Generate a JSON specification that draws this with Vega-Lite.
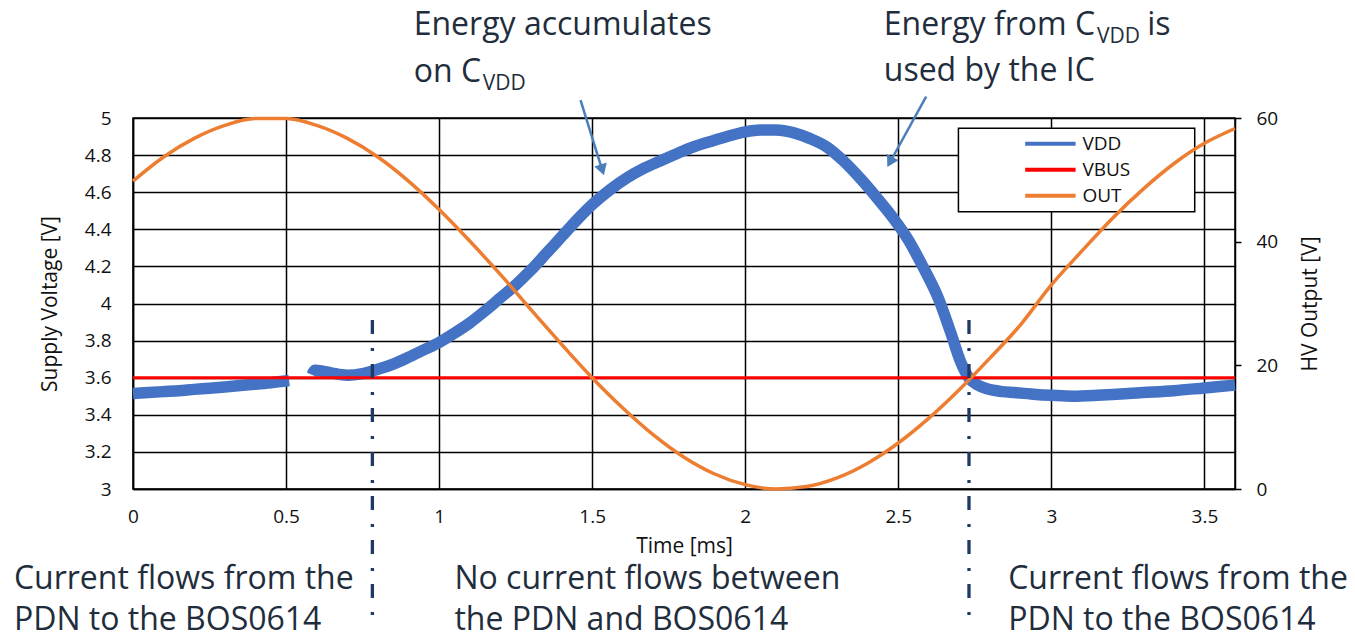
{
  "$schema": "https://vega.github.io/schema/vega-lite/v6.json",
  "width": 1102,
  "height": 371,
  "autosize": {"type": "none"},
  "padding": {"left": 133, "top": 118, "right": 120, "bottom": 147},
  "background": "#ffffff",
  "datasets": {
    "signals": [
      {"t": 0.00, "series": "VDD", "v": 3.515},
      {"t": 0.05, "series": "VDD", "v": 3.52},
      {"t": 0.10, "series": "VDD", "v": 3.525},
      {"t": 0.15, "series": "VDD", "v": 3.53},
      {"t": 0.20, "series": "VDD", "v": 3.537},
      {"t": 0.25, "series": "VDD", "v": 3.543},
      {"t": 0.30, "series": "VDD", "v": 3.55},
      {"t": 0.35, "series": "VDD", "v": 3.558},
      {"t": 0.40, "series": "VDD", "v": 3.565},
      {"t": 0.45, "series": "VDD", "v": 3.573},
      {"t": 0.51, "series": "VDD", "v": 3.585},
      {"t": 0.55, "series": "VDD", "v": null},
      {"t": 0.585, "series": "VDD", "v": 3.615},
      {"t": 0.595, "series": "VDD", "v": 3.64},
      {"t": 0.62, "series": "VDD", "v": 3.635},
      {"t": 0.65, "series": "VDD", "v": 3.625},
      {"t": 0.70, "series": "VDD", "v": 3.613},
      {"t": 0.75, "series": "VDD", "v": 3.622},
      {"t": 0.80, "series": "VDD", "v": 3.645},
      {"t": 0.85, "series": "VDD", "v": 3.673},
      {"t": 0.90, "series": "VDD", "v": 3.71},
      {"t": 0.95, "series": "VDD", "v": 3.75},
      {"t": 1.00, "series": "VDD", "v": 3.79},
      {"t": 1.05, "series": "VDD", "v": 3.84},
      {"t": 1.10, "series": "VDD", "v": 3.895},
      {"t": 1.15, "series": "VDD", "v": 3.96},
      {"t": 1.20, "series": "VDD", "v": 4.03},
      {"t": 1.25, "series": "VDD", "v": 4.10},
      {"t": 1.30, "series": "VDD", "v": 4.18},
      {"t": 1.35, "series": "VDD", "v": 4.27},
      {"t": 1.40, "series": "VDD", "v": 4.36},
      {"t": 1.45, "series": "VDD", "v": 4.45},
      {"t": 1.505, "series": "VDD", "v": 4.54},
      {"t": 1.56, "series": "VDD", "v": 4.615},
      {"t": 1.616, "series": "VDD", "v": 4.68},
      {"t": 1.67, "series": "VDD", "v": 4.73},
      {"t": 1.724, "series": "VDD", "v": 4.77},
      {"t": 1.78, "series": "VDD", "v": 4.81},
      {"t": 1.832, "series": "VDD", "v": 4.845},
      {"t": 1.89, "series": "VDD", "v": 4.875},
      {"t": 1.941, "series": "VDD", "v": 4.90},
      {"t": 2.00, "series": "VDD", "v": 4.925},
      {"t": 2.05, "series": "VDD", "v": 4.935},
      {"t": 2.10, "series": "VDD", "v": 4.935},
      {"t": 2.159, "series": "VDD", "v": 4.92},
      {"t": 2.21, "series": "VDD", "v": 4.89},
      {"t": 2.27, "series": "VDD", "v": 4.84},
      {"t": 2.32, "series": "VDD", "v": 4.77},
      {"t": 2.378, "series": "VDD", "v": 4.67},
      {"t": 2.43, "series": "VDD", "v": 4.57},
      {"t": 2.486, "series": "VDD", "v": 4.455},
      {"t": 2.53, "series": "VDD", "v": 4.35},
      {"t": 2.58, "series": "VDD", "v": 4.20},
      {"t": 2.633, "series": "VDD", "v": 4.02},
      {"t": 2.67, "series": "VDD", "v": 3.85},
      {"t": 2.705, "series": "VDD", "v": 3.68},
      {"t": 2.73, "series": "VDD", "v": 3.60},
      {"t": 2.76, "series": "VDD", "v": 3.56},
      {"t": 2.79, "series": "VDD", "v": 3.54},
      {"t": 2.84, "series": "VDD", "v": 3.525},
      {"t": 2.88, "series": "VDD", "v": 3.52},
      {"t": 2.95, "series": "VDD", "v": 3.51},
      {"t": 3.00, "series": "VDD", "v": 3.505},
      {"t": 3.07, "series": "VDD", "v": 3.50},
      {"t": 3.15, "series": "VDD", "v": 3.505},
      {"t": 3.20, "series": "VDD", "v": 3.51},
      {"t": 3.30, "series": "VDD", "v": 3.52},
      {"t": 3.40, "series": "VDD", "v": 3.53},
      {"t": 3.50, "series": "VDD", "v": 3.545},
      {"t": 3.60, "series": "VDD", "v": 3.56},
      {"t": 0.0, "series": "VBUS", "v": 3.6},
      {"t": 3.6, "series": "VBUS", "v": 3.6},
      {"t": 0.0, "series": "OUT", "v": 49.8},
      {"t": 0.1, "series": "OUT", "v": 53.7},
      {"t": 0.2, "series": "OUT", "v": 56.7},
      {"t": 0.3, "series": "OUT", "v": 58.8},
      {"t": 0.4, "series": "OUT", "v": 59.9},
      {"t": 0.5, "series": "OUT", "v": 59.9},
      {"t": 0.6, "series": "OUT", "v": 58.8},
      {"t": 0.7, "series": "OUT", "v": 56.7},
      {"t": 0.8, "series": "OUT", "v": 53.7},
      {"t": 0.9, "series": "OUT", "v": 49.8},
      {"t": 1.0, "series": "OUT", "v": 45.2},
      {"t": 1.1, "series": "OUT", "v": 40.1},
      {"t": 1.2, "series": "OUT", "v": 34.7},
      {"t": 1.3, "series": "OUT", "v": 29.0},
      {"t": 1.4, "series": "OUT", "v": 23.4},
      {"t": 1.5, "series": "OUT", "v": 18.0},
      {"t": 1.6, "series": "OUT", "v": 13.1},
      {"t": 1.7, "series": "OUT", "v": 8.75},
      {"t": 1.8, "series": "OUT", "v": 5.14},
      {"t": 1.9, "series": "OUT", "v": 2.43},
      {"t": 2.0, "series": "OUT", "v": 0.71},
      {"t": 2.1, "series": "OUT", "v": 0.01},
      {"t": 2.2, "series": "OUT", "v": 0.39},
      {"t": 2.3, "series": "OUT", "v": 1.8},
      {"t": 2.4, "series": "OUT", "v": 4.18},
      {"t": 2.5, "series": "OUT", "v": 7.44},
      {"t": 2.6, "series": "OUT", "v": 11.46},
      {"t": 2.7, "series": "OUT", "v": 16.1},
      {"t": 2.8, "series": "OUT", "v": 21.2},
      {"t": 2.9, "series": "OUT", "v": 26.6},
      {"t": 3.0, "series": "OUT", "v": 33.0},
      {"t": 3.1, "series": "OUT", "v": 38.5},
      {"t": 3.2, "series": "OUT", "v": 43.8},
      {"t": 3.3, "series": "OUT", "v": 48.5},
      {"t": 3.4, "series": "OUT", "v": 52.6},
      {"t": 3.5, "series": "OUT", "v": 55.9},
      {"t": 3.6, "series": "OUT", "v": 58.3}
    ],
    "bounds": [
      {"t": 0.782},
      {"t": 2.731}
    ]
  },
  "layer": [
    {
      "data": {"values": [{}]},
      "mark": {"type": "rect", "fill": "#ffffff", "stroke": "#000000", "strokeWidth": 1.5, "clip": false},
      "encoding": {
        "x": {"datum": 2.6965, "type": "quantitative", "scale": {"domain": [0, 3.6], "nice": false, "zero": false},
          "axis": {"title": "Time [ms]", "values": [0, 0.5, 1, 1.5, 2, 2.5, 3, 3.5], "format": "~g", "grid": true, "ticks": false, "tickSize": 0, "labelPadding": 18, "titlePadding": 9, "labelFlush": false}},
        "x2": {"datum": 3.4684},
        "y": {"datum": 4.9445, "type": "quantitative", "scale": {"domain": [3, 5], "nice": false, "zero": false},
          "axis": {"title": "Supply Voltage [V]", "values": [3, 3.2, 3.4, 3.6, 3.8, 4, 4.2, 4.4, 4.6, 4.8, 5], "format": "~g", "grid": true, "ticks": false, "tickSize": 0, "labelPadding": 22, "titlePadding": 24, "labelFlush": false}},
        "y2": {"datum": 4.4949}
      }
    },
    {
      "data": {"name": "signals"},
      "transform": [{"filter": "datum.series === 'VDD'"}],
      "mark": {"type": "line", "strokeWidth": 11.5, "interpolate": "monotone", "invalid": "break-paths-filter-domains", "clip": false},
      "encoding": {
        "x": {"field": "t", "type": "quantitative", "scale": {"domain": [0, 3.6], "nice": false, "zero": false},
          "axis": {"title": "Time [ms]", "values": [0, 0.5, 1, 1.5, 2, 2.5, 3, 3.5], "format": "~g", "grid": true, "ticks": false, "tickSize": 0, "labelPadding": 18, "titlePadding": 9, "labelFlush": false}},
        "y": {"field": "v", "type": "quantitative", "scale": {"domain": [3, 5], "nice": false, "zero": false}, "axis": null},
        "color": {"field": "series", "type": "nominal",
          "scale": {"domain": ["VDD", "VBUS", "OUT"], "range": ["#4472C4", "#FF0000", "#ED7D31"]},
          "legend": {"title": null, "orient": "none", "legendX": 901.4, "legendY": 9.7}}
      }
    },
    {
      "data": {"name": "signals"},
      "transform": [{"filter": "datum.series === 'VBUS'"}],
      "mark": {"type": "line", "strokeWidth": 3, "clip": false},
      "encoding": {
        "x": {"field": "t", "type": "quantitative", "scale": {"domain": [0, 3.6], "nice": false, "zero": false},
          "axis": {"title": "Time [ms]", "values": [0, 0.5, 1, 1.5, 2, 2.5, 3, 3.5], "format": "~g", "grid": true, "ticks": false, "tickSize": 0, "labelPadding": 18, "titlePadding": 9, "labelFlush": false}},
        "y": {"field": "v", "type": "quantitative", "scale": {"domain": [3, 5], "nice": false, "zero": false}, "axis": null},
        "color": {"field": "series", "type": "nominal",
          "scale": {"domain": ["VDD", "VBUS", "OUT"], "range": ["#4472C4", "#FF0000", "#ED7D31"]},
          "legend": {"title": null, "orient": "none", "legendX": 901.4, "legendY": 9.7}}
      }
    },
    {
      "data": {"name": "signals"},
      "transform": [{"filter": "datum.series === 'OUT'"}],
      "mark": {"type": "line", "strokeWidth": 3.5, "interpolate": "monotone", "clip": false},
      "encoding": {
        "x": {"field": "t", "type": "quantitative", "scale": {"domain": [0, 3.6], "nice": false, "zero": false},
          "axis": {"title": "Time [ms]", "values": [0, 0.5, 1, 1.5, 2, 2.5, 3, 3.5], "format": "~g", "grid": true, "ticks": false, "tickSize": 0, "labelPadding": 18, "titlePadding": 9, "labelFlush": false}},
        "y": {"field": "v", "type": "quantitative", "scale": {"domain": [0, 60], "nice": false, "zero": false},
          "axis": {"orient": "right", "title": "HV Output [V]", "values": [0, 20, 40, 60], "grid": false, "ticks": true, "tickSize": 6, "tickColor": "#000000", "tickWidth": 1.5, "labelPadding": 15, "titleAngle": 270, "titleBaseline": "top", "titlePadding": 22, "labelFlush": false}},
        "color": {"field": "series", "type": "nominal",
          "scale": {"domain": ["VDD", "VBUS", "OUT"], "range": ["#4472C4", "#FF0000", "#ED7D31"]},
          "legend": {"title": null, "orient": "none", "legendX": 901.4, "legendY": 9.7}}
      }
    },
    {
      "data": {"name": "bounds"},
      "mark": {"type": "rule", "color": "#203864", "strokeWidth": 3.3, "strokeDash": [14, 14, 3, 13], "clip": false},
      "encoding": {
        "x": {"field": "t", "type": "quantitative", "scale": {"domain": [0, 3.6], "nice": false, "zero": false},
          "axis": {"title": "Time [ms]", "values": [0, 0.5, 1, 1.5, 2, 2.5, 3, 3.5], "format": "~g", "grid": true, "ticks": false, "tickSize": 0, "labelPadding": 18, "titlePadding": 9, "labelFlush": false}},
        "y": {"datum": 3.911, "type": "quantitative", "scale": {"domain": [3, 5], "nice": false, "zero": false}, "axis": null},
        "y2": {"datum": 2.321}
      }
    },
    {
      "data": {"values": [{}]},
      "mark": {"type": "rule", "color": "#4A7EBB", "strokeWidth": 2.5, "clip": false},
      "encoding": {
        "x": {"datum": 1.462, "type": "quantitative", "scale": {"domain": [0, 3.6], "nice": false, "zero": false},
          "axis": {"title": "Time [ms]", "values": [0, 0.5, 1, 1.5, 2, 2.5, 3, 3.5], "format": "~g", "grid": true, "ticks": false, "tickSize": 0, "labelPadding": 18, "titlePadding": 9, "labelFlush": false}},
        "x2": {"datum": 1.531},
        "y": {"datum": 5.097, "type": "quantitative", "scale": {"domain": [3, 5], "nice": false, "zero": false}, "axis": null},
        "y2": {"datum": 4.73}
      }
    },
    {
      "data": {"values": [{}]},
      "mark": {"type": "point", "shape": "triangle", "filled": true, "size": 170, "angle": 162.5, "color": "#4A7EBB", "opacity": 1, "clip": false},
      "encoding": {
        "x": {"datum": 1.531, "type": "quantitative", "scale": {"domain": [0, 3.6], "nice": false, "zero": false},
          "axis": {"title": "Time [ms]", "values": [0, 0.5, 1, 1.5, 2, 2.5, 3, 3.5], "format": "~g", "grid": true, "ticks": false, "tickSize": 0, "labelPadding": 18, "titlePadding": 9, "labelFlush": false}},
        "y": {"datum": 4.73, "type": "quantitative", "scale": {"domain": [3, 5], "nice": false, "zero": false}, "axis": null}
      }
    },
    {
      "data": {"values": [{}]},
      "mark": {"type": "rule", "color": "#4A7EBB", "strokeWidth": 2.5, "clip": false},
      "encoding": {
        "x": {"datum": 2.591, "type": "quantitative", "scale": {"domain": [0, 3.6], "nice": false, "zero": false},
          "axis": {"title": "Time [ms]", "values": [0, 0.5, 1, 1.5, 2, 2.5, 3, 3.5], "format": "~g", "grid": true, "ticks": false, "tickSize": 0, "labelPadding": 18, "titlePadding": 9, "labelFlush": false}},
        "x2": {"datum": 2.476},
        "y": {"datum": 5.115, "type": "quantitative", "scale": {"domain": [3, 5], "nice": false, "zero": false}, "axis": null},
        "y2": {"datum": 4.771}
      }
    },
    {
      "data": {"values": [{}]},
      "mark": {"type": "point", "shape": "triangle", "filled": true, "size": 170, "angle": 208.5, "color": "#4A7EBB", "opacity": 1, "clip": false},
      "encoding": {
        "x": {"datum": 2.476, "type": "quantitative", "scale": {"domain": [0, 3.6], "nice": false, "zero": false},
          "axis": {"title": "Time [ms]", "values": [0, 0.5, 1, 1.5, 2, 2.5, 3, 3.5], "format": "~g", "grid": true, "ticks": false, "tickSize": 0, "labelPadding": 18, "titlePadding": 9, "labelFlush": false}},
        "y": {"datum": 4.771, "type": "quantitative", "scale": {"domain": [3, 5], "nice": false, "zero": false}, "axis": null}
      }
    },
    {
      "data": {"values": [{}]},
      "mark": {"type": "text", "text": ["Energy accumulates", "on C"], "lineHeight": 46.7, "font": "Open Sans", "fontSize": 32, "color": "#1F2D3D", "align": "left", "baseline": "alphabetic", "clip": false},
      "encoding": {
        "x": {"datum": 0.917, "type": "quantitative", "scale": {"domain": [0, 3.6], "nice": false, "zero": false},
          "axis": {"title": "Time [ms]", "values": [0, 0.5, 1, 1.5, 2, 2.5, 3, 3.5], "format": "~g", "grid": true, "ticks": false, "tickSize": 0, "labelPadding": 18, "titlePadding": 9, "labelFlush": false}},
        "y": {"datum": 5.4474, "type": "quantitative", "scale": {"domain": [3, 5], "nice": false, "zero": false}, "axis": null}
      }
    },
    {
      "data": {"values": [{}]},
      "mark": {"type": "text", "text": "VDD", "font": "Open Sans", "fontSize": 21, "color": "#1F2D3D", "align": "left", "baseline": "alphabetic", "clip": false},
      "encoding": {
        "x": {"datum": 1.1427, "type": "quantitative", "scale": {"domain": [0, 3.6], "nice": false, "zero": false},
          "axis": {"title": "Time [ms]", "values": [0, 0.5, 1, 1.5, 2, 2.5, 3, 3.5], "format": "~g", "grid": true, "ticks": false, "tickSize": 0, "labelPadding": 18, "titlePadding": 9, "labelFlush": false}},
        "y": {"datum": 5.151, "type": "quantitative", "scale": {"domain": [3, 5], "nice": false, "zero": false}, "axis": null}
      }
    },
    {
      "data": {"values": [{}]},
      "mark": {"type": "text", "text": ["Energy from C", "used by the IC"], "lineHeight": 46, "font": "Open Sans", "fontSize": 32, "color": "#1F2D3D", "align": "left", "baseline": "alphabetic", "clip": false},
      "encoding": {
        "x": {"datum": 2.4526, "type": "quantitative", "scale": {"domain": [0, 3.6], "nice": false, "zero": false},
          "axis": {"title": "Time [ms]", "values": [0, 0.5, 1, 1.5, 2, 2.5, 3, 3.5], "format": "~g", "grid": true, "ticks": false, "tickSize": 0, "labelPadding": 18, "titlePadding": 9, "labelFlush": false}},
        "y": {"datum": 5.4474, "type": "quantitative", "scale": {"domain": [3, 5], "nice": false, "zero": false}, "axis": null}
      }
    },
    {
      "data": {"values": [{}]},
      "mark": {"type": "text", "text": "VDD", "font": "Open Sans", "fontSize": 21, "color": "#1F2D3D", "align": "left", "baseline": "alphabetic", "clip": false},
      "encoding": {
        "x": {"datum": 3.149, "type": "quantitative", "scale": {"domain": [0, 3.6], "nice": false, "zero": false},
          "axis": {"title": "Time [ms]", "values": [0, 0.5, 1, 1.5, 2, 2.5, 3, 3.5], "format": "~g", "grid": true, "ticks": false, "tickSize": 0, "labelPadding": 18, "titlePadding": 9, "labelFlush": false}},
        "y": {"datum": 5.4027, "type": "quantitative", "scale": {"domain": [3, 5], "nice": false, "zero": false}, "axis": null}
      }
    },
    {
      "data": {"values": [{}]},
      "mark": {"type": "text", "text": "is", "font": "Open Sans", "fontSize": 32, "color": "#1F2D3D", "align": "left", "baseline": "alphabetic", "clip": false},
      "encoding": {
        "x": {"datum": 3.313, "type": "quantitative", "scale": {"domain": [0, 3.6], "nice": false, "zero": false},
          "axis": {"title": "Time [ms]", "values": [0, 0.5, 1, 1.5, 2, 2.5, 3, 3.5], "format": "~g", "grid": true, "ticks": false, "tickSize": 0, "labelPadding": 18, "titlePadding": 9, "labelFlush": false}},
        "y": {"datum": 5.4474, "type": "quantitative", "scale": {"domain": [3, 5], "nice": false, "zero": false}, "axis": null}
      }
    },
    {
      "data": {"values": [{}]},
      "mark": {"type": "text", "text": ["Current flows from the", "PDN to the BOS0614"], "lineHeight": 41, "font": "Open Sans", "fontSize": 32, "color": "#1F2D3D", "align": "left", "baseline": "alphabetic", "clip": false},
      "encoding": {
        "x": {"datum": -0.389, "type": "quantitative", "scale": {"domain": [0, 3.6], "nice": false, "zero": false},
          "axis": {"title": "Time [ms]", "values": [0, 0.5, 1, 1.5, 2, 2.5, 3, 3.5], "format": "~g", "grid": true, "ticks": false, "tickSize": 0, "labelPadding": 18, "titlePadding": 9, "labelFlush": false}},
        "y": {"datum": 2.4609, "type": "quantitative", "scale": {"domain": [3, 5], "nice": false, "zero": false}, "axis": null}
      }
    },
    {
      "data": {"values": [{}]},
      "mark": {"type": "text", "text": ["No current flows between", "the PDN and BOS0614"], "lineHeight": 41, "font": "Open Sans", "fontSize": 32, "color": "#1F2D3D", "align": "left", "baseline": "alphabetic", "clip": false},
      "encoding": {
        "x": {"datum": 1.050, "type": "quantitative", "scale": {"domain": [0, 3.6], "nice": false, "zero": false},
          "axis": {"title": "Time [ms]", "values": [0, 0.5, 1, 1.5, 2, 2.5, 3, 3.5], "format": "~g", "grid": true, "ticks": false, "tickSize": 0, "labelPadding": 18, "titlePadding": 9, "labelFlush": false}},
        "y": {"datum": 2.4609, "type": "quantitative", "scale": {"domain": [3, 5], "nice": false, "zero": false}, "axis": null}
      }
    },
    {
      "data": {"values": [{}]},
      "mark": {"type": "text", "text": ["Current flows from the", "PDN to the BOS0614"], "lineHeight": 41, "font": "Open Sans", "fontSize": 32, "color": "#1F2D3D", "align": "left", "baseline": "alphabetic", "clip": false},
      "encoding": {
        "x": {"datum": 2.859, "type": "quantitative", "scale": {"domain": [0, 3.6], "nice": false, "zero": false},
          "axis": {"title": "Time [ms]", "values": [0, 0.5, 1, 1.5, 2, 2.5, 3, 3.5], "format": "~g", "grid": true, "ticks": false, "tickSize": 0, "labelPadding": 18, "titlePadding": 9, "labelFlush": false}},
        "y": {"datum": 2.4609, "type": "quantitative", "scale": {"domain": [3, 5], "nice": false, "zero": false}, "axis": null}
      }
    }
  ],
  "resolve": {"scale": {"y": "independent"}},
  "config": {
    "font": "Open Sans",
    "view": {"stroke": "#000000", "strokeWidth": 1.5},
    "axis": {
      "labelFont": "Open Sans",
      "titleFont": "Open Sans",
      "labelFontSize": 19,
      "titleFontSize": 21,
      "titleFontWeight": "normal",
      "labelColor": "#111111",
      "titleColor": "#111111",
      "domainColor": "#000000",
      "domainWidth": 1.5,
      "gridColor": "#000000",
      "gridWidth": 1.5,
      "gridOpacity": 1
    },
    "legend": {
      "labelFont": "Open Sans",
      "labelFontSize": 19,
      "labelColor": "#111111",
      "symbolType": "M-1.8,0H1.8",
      "symbolSize": 784,
      "symbolStrokeWidth": 4,
      "labelOffset": 16,
      "rowPadding": 0,
      "padding": 0
    }
  }
}
